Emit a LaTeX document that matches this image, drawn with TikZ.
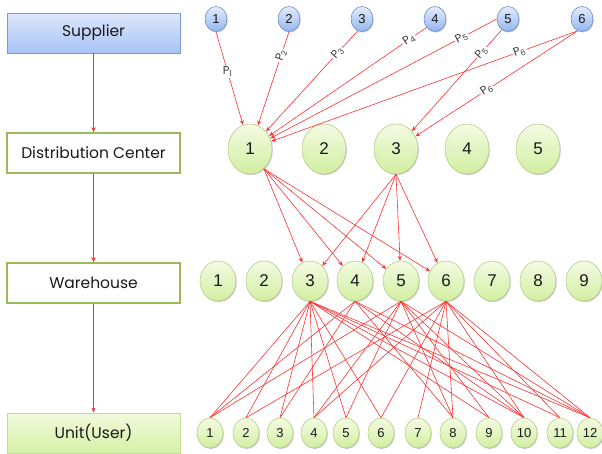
\documentclass[tikz,border=0pt]{standalone}
\usepackage{fontspec}
\setmainfont{Liberation Sans}
\newfontfamily\boxfont{Poppins}
\usetikzlibrary{shadows,arrows.meta,shapes.geometric}

\definecolor{linered}{HTML}{FF3030}
\definecolor{txt}{HTML}{1A1A1A}
\definecolor{supTop}{HTML}{E4EDFD}
\definecolor{supBot}{HTML}{93B5EF}
\definecolor{supEdge}{HTML}{6F90C9}
\definecolor{grTop}{HTML}{F4FBE4}
\definecolor{grBot}{HTML}{D2EEA0}
\definecolor{grEdge}{HTML}{B3D186}
\definecolor{boxGreen}{HTML}{9BBB59}
\definecolor{sbTop}{HTML}{DDE8FC}
\definecolor{sbBot}{HTML}{A7C3F5}
\definecolor{sbEdge}{HTML}{7D9BCB}
\definecolor{ubTop}{HTML}{F0FADB}
\definecolor{ubBot}{HTML}{D5F1A6}
\definecolor{ubEdge}{HTML}{C3DC99}

\begin{document}
\begin{tikzpicture}[x=1pt,y=-1pt,
  link/.style={draw=linered, line width=0.6pt},
  arr/.style={link, -{Stealth[length=5pt,width=4pt]}},
  plab/.style={fill=white, inner sep=1pt, text=txt!85, font=\boxfont\fontsize{11.5}{11.5}\selectfont},
  softshadow/.style={drop shadow={shadow xshift=0.8pt, shadow yshift=-1pt, opacity=0.22, fill=black}},
  sup/.style={ellipse, draw=supEdge, line width=0.6pt, top color=supTop, bottom color=supBot,
    minimum width=22pt, minimum height=25pt, inner sep=0pt, text=txt,
    font=\fontsize{13}{13}\selectfont, softshadow},
  gnode/.style={ellipse, draw=grEdge, line width=0.6pt, top color=grTop, bottom color=grBot,
    inner sep=0pt, text=txt, softshadow},
  dcn/.style={gnode, minimum width=44pt, minimum height=50pt, font=\fontsize{17}{17}\selectfont},
  whn/.style={gnode, minimum width=36pt, minimum height=40pt, font=\fontsize{17}{17}\selectfont},
  usn/.style={gnode, minimum width=26pt, minimum height=30pt, font=\fontsize{13}{13}\selectfont},
  tier/.style={rectangle, minimum width=173pt, minimum height=40pt, inner sep=0pt, text=txt,
    font=\boxfont\fontsize{15.5}{15.5}\selectfont},
  tierplain/.style={tier, draw=boxGreen, line width=1.5pt, fill=white, softshadow},
]
\useasboundingbox (0,0) rectangle (602,453);

% tier boxes on the left
\node[tier, draw=sbEdge, line width=0.8pt, top color=sbTop, bottom color=sbBot, softshadow]
  (tsup) at (93.5,33) {Supplier};
\node[tierplain] (tdc) at (93.5,153) {Distribution Center};
\node[tierplain] (twh) at (93.5,283) {Warehouse};
\node[tier, draw=ubEdge, line width=0.8pt, top color=ubTop, bottom color=ubBot]
  (tus) at (93.5,433) {Unit(User)};

\draw[arr] (tsup) -- (tdc);
\draw[arr] (tdc) -- (twh);
\draw[arr] (twh) -- (tus);

% suppliers
\foreach \i/\x in {1/216,2/289,3/362,4/435,5/508,6/582}
  \node[sup] (s\i) at (\x,19) {\i};

% distribution centers
\foreach \i/\x in {1/250,2/324,3/396,4/467,5/538}
  \node[dcn] (d\i) at (\x,149) {\i};

% warehouses
\foreach \i/\x in {1/218,2/264,3/310,4/355,5/401,6/446,7/492,8/538,9/584}
  \node[whn] (w\i) at (\x,281) {\i};

% units (users)
\foreach \i/\x in {1/210,2/246,3/280,4/314,5/346,6/381,7/418,8/453,9/489,10/524,11/560,12/590}
  \node[usn] (u\i) at (\x,433) {\i};

% supplier -> distribution center flows
\draw[arr] (s1.south) -- node[plab, pos=0.43] {P\textsubscript{1}} (d1);
\draw[arr] (s2.south) -- node[plab, sloped, pos=0.25] {P\textsubscript{2}} (d1);
\draw[arr] (s3.250) -- node[plab, sloped, pos=0.22] {P\textsubscript{3}} (d1);
\draw[arr] (s4.225) -- node[plab, sloped, pos=0.11] {P\textsubscript{4}} (d1);
\draw[arr] (s5.west) -- node[plab, sloped, pos=0.155] {P\textsubscript{5}} (d1);
\draw[arr] (s5.240) -- node[plab, sloped, pos=0.225] {P\textsubscript{5}} (d3);
\draw[arr] (s6.250) -- node[plab, sloped, pos=0.19] {P\textsubscript{6}} (d1);
\draw[arr] (s6.250) -- node[plab, sloped, pos=0.56] {P\textsubscript{6}} (d3);

% distribution center -> warehouse flows
\foreach \w in {3,4,5,6} {
  \draw[arr] (d1.305) -- (w\w);
  \draw[arr] (d3.south) -- (w\w);
}

% warehouse -> unit assignments
\foreach \u in {1,2,3,4,5,6,9,10,11,12} \draw[link] (w3.south) -- (u\u.north);
\foreach \u in {1,3,8,10,12} \draw[link] (w4.south) -- (u\u.north);
\foreach \u in {1,4,5,8,9,10,12} \draw[link] (w5.south) -- (u\u.north);
\foreach \u in {2,4,6,7,8,10,11,12} \draw[link] (w6.south) -- (u\u.north);
\end{tikzpicture}
\end{document}
